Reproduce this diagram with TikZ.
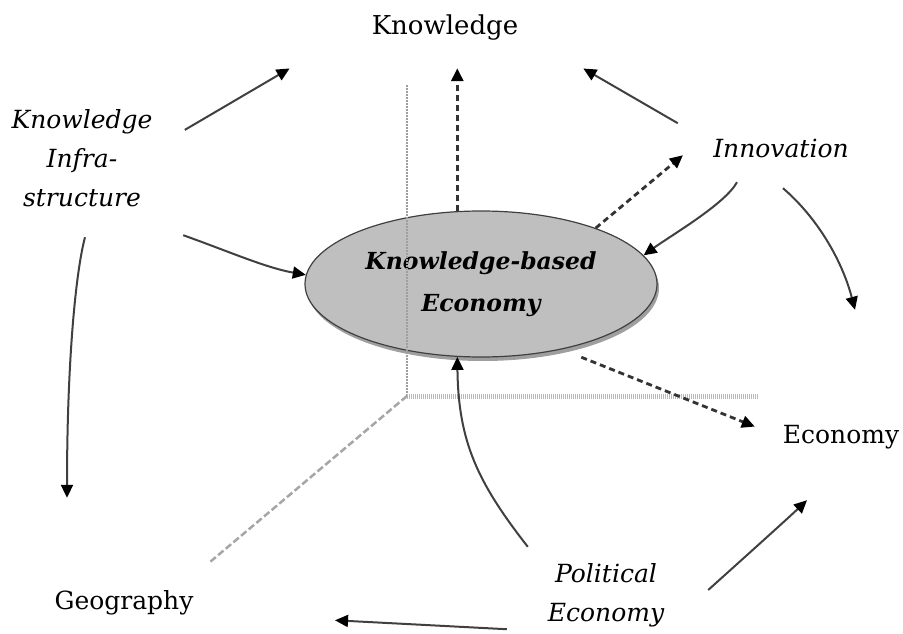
\documentclass[tikz,border=0pt]{standalone}
\usepackage{fontspec}
\setmainfont{DejaVu Serif}
\usetikzlibrary{arrows.meta, shapes.geometric, shadows}
\tikzset{
  labelnode/.style={inner sep=0pt, align=center,
                    font=\fontsize{25}{38}\selectfont},
  labelit/.style={labelnode, font=\fontsize{25}{39}\selectfont\itshape},
  kbenode/.style={ellipse, draw=black!75, line width=1.2pt, fill=gray!50,
                  minimum width=352pt, minimum height=146pt, inner sep=0pt,
                  align=center, font=\fontsize{23.5}{42}\selectfont\bfseries\itshape,
                  drop shadow={shadow xshift=2pt, shadow yshift=-4pt,
                               fill=gray!75, opacity=1}},
  arrow/.style={-{Triangle[length=13pt, width=12pt, black]}, line width=2pt, color=black!75},
  dasharrow/.style={arrow, line width=2.8pt, color=black!80, dash pattern=on 6pt off 4pt},
  axisline/.style={gray!75, line width=2pt, dash pattern=on 2pt off 1pt}
}
\begin{document}
\begin{tikzpicture}[x=1pt, y=-1pt]
  \useasboundingbox (0,0) rectangle (903,634);

  % Centre
  \node[kbenode] (kbe) at (481,284) {Knowledge-based\\Economy};

  % Axes
  \coordinate (orig) at (407,396);
  \draw[axisline] (orig) -- ++(0,-311);
  \draw[axisline, line width=5pt, gray!55, dash pattern=on 1pt off 1pt] (orig) -- ++(351,0);
  \draw[axisline, line width=2.5pt, gray!70, dash pattern=on 7pt off 3pt] (orig) -- ++(-197,166);

  % Labels
  \node[labelnode, font=\fontsize{26}{38}\selectfont,
        minimum width=150pt, minimum height=30pt] (kn) at (445,28) {Knowledge};
  \node[labelit, minimum width=150pt, minimum height=110pt] (ki) at (82,158)
      {Knowledge\\Infra-\\structure};
  \node[labelit, minimum width=142pt, minimum height=30pt] (in) at (781,148) {Innovation};
  \node[labelnode, minimum width=120pt, minimum height=30pt] (ec) at (841,437) {Economy};
  \node[labelnode, minimum width=142pt, minimum height=30pt] (ge) at (124,603) {Geography};
  \node[labelit, minimum width=122pt, minimum height=72pt] (pe) at (606,595)
      {Political\\Economy};

  % Arrows
  \draw[arrow, shorten <=32pt, shorten >=93pt] (ki.9) -- (kn.175);
  \draw[arrow] ([shift={(26,22)}]ki.south east)
      .. controls +(45,16) and +(-40,-7) .. (kbe.177);
  \draw[arrow] ([shift={(3,24)}]ki.south)
      .. controls +(-10,38) and +(0,-130) .. ([shift={(-57,-90)}]ge.north);
  \draw[dasharrow, shorten >=25pt] (kbe.108) -- (kbe.108 |- kn.south);
  \draw[arrow, shorten <=37pt, shorten >=73pt] (in.175) -- (kn.-3);
  \draw[dasharrow, shorten >=35pt] (kbe.26) -- (in.north west);
  \draw[arrow] ([shift={(-44,19)}]in.south)
      .. controls +(-12,22) and +(26,-19) .. (kbe.10);
  \draw[arrow] ([shift={(2,25)}]in.south)
      .. controls +(37,32) and +(-12,-46) .. ([shift={(14,-112)}]ec.north);
  \draw[dasharrow, shorten <=21pt, shorten >=28pt] (kbe.-39) -- (ec.west);
  \draw[arrow] ([shift={(-17,-12)}]pe.north west)
      .. controls +(-50,-64) and +(1,85) .. (kbe.-108);
  \draw[arrow] ([shift={(41,-5)}]pe.east)
      .. controls +(30,-27) and +(-20,19) .. ([shift={(-34,48)}]ec.south);
  \draw[arrow, shorten <=38pt, shorten >=140pt] (pe.south west) -- (ge.-8);

\end{tikzpicture}
\end{document}
